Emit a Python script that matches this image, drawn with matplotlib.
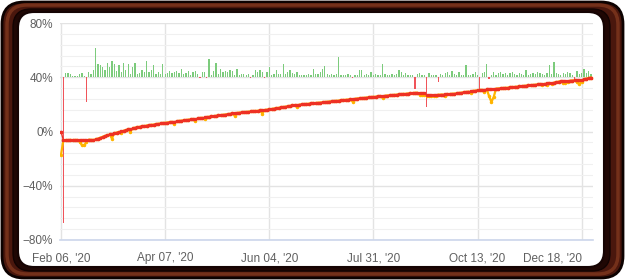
import numpy as np
import matplotlib
matplotlib.use('Agg')
import matplotlib.pyplot as plt
from matplotlib.patches import FancyBboxPatch

# growth line (red), % per point
growth = [
    0.0, -6.4, -6.3, -6.4, -6.2, -6.4, -6.3, -6.3, -6.1, -6.3,
    -6.2, -6.4, -6.0, -6.2, -6.3, -5.8, -5.2, -4.6, -3.9, -3.2,
    -2.8, -2.2, -1.8, -1.2, -0.8, -0.3, 0.1, 0.6, 1.0, 1.5,
    1.9, 2.3, 2.8, 3.2, 3.5, 3.8, 4.0, 4.4, 4.6, 4.9,
    5.1, 5.4, 5.7, 5.9, 6.2, 6.4, 6.6, 6.9, 7.1, 7.3,
    7.5, 7.8, 8.0, 8.2, 8.4, 8.7, 8.9, 9.1, 9.4, 9.6,
    9.9, 10.1, 10.4, 10.6, 10.8, 11.1, 11.3, 11.6, 11.8, 12.0,
    12.3, 12.5, 12.8, 13.0, 13.3, 13.5, 13.7, 13.9, 14.1, 14.2,
    14.4, 14.6, 14.8, 15.0, 15.1, 15.3, 15.5, 15.7, 15.9, 16.1,
    16.3, 16.6, 16.9, 17.2, 17.5, 17.7, 18.0, 18.3, 18.6, 18.9,
    19.2, 19.5, 19.7, 19.8, 20.0, 20.2, 20.3, 20.5, 20.7, 20.8,
    21.0, 21.2, 21.3, 21.5, 21.7, 21.9, 22.1, 22.3, 22.4, 22.6,
    22.8, 23.0, 23.2, 23.4, 23.5, 23.7, 23.9, 24.1, 24.3, 24.5,
    24.6, 24.8, 25.0, 25.2, 25.4, 25.5, 25.7, 25.9, 26.0, 26.2,
    26.4, 26.5, 26.7, 26.8, 27.0, 27.2, 27.3, 27.5, 27.7, 27.8,
    28.0, 28.1, 28.3, 28.5, 28.6, 28.4, 28.2, 28.3, 26.9, 26.9,
    26.9, 27.0, 27.0, 27.1, 27.2, 27.2, 27.3, 27.5, 27.6, 27.8,
    27.9, 28.1, 28.4, 28.6, 28.9, 29.1, 29.4, 29.6, 29.9, 30.1,
    30.4, 30.6, 30.7, 30.9, 31.0, 31.1, 31.3, 31.4, 31.6, 31.7,
    31.9, 32.0, 32.2, 32.3, 32.5, 32.7, 32.9, 33.0, 33.2, 33.4,
    33.6, 33.8, 34.0, 34.1, 34.3, 34.5, 34.7, 34.9, 35.1, 35.2,
    35.4, 35.6, 35.8, 36.0, 36.4, 36.8, 37.1, 37.2, 37.3, 37.4,
    37.5, 37.6, 37.7, 37.8, 37.9, 38.0, 38.5, 39.0, 39.4, 39.8,
]

# balance line (yellow)
balance = [
    -17.0, -6.6, -6.3, -6.4, -6.2, -6.4, -6.3, -6.3, -7.5, -10.0,
    -10.2, -7.8, -6.0, -6.2, -6.3, -5.8, -5.2, -4.6, -3.9, -3.2,
    -2.8, -2.2, -5.2, -1.2, -0.8, -0.3, -1.2, 0.6, 1.0, 1.5,
    0.0, 2.3, 2.8, 3.2, 3.5, 3.8, 4.0, 4.4, 4.6, 4.9,
    5.1, 5.4, 5.7, 5.9, 6.2, 6.4, 6.6, 6.9, 7.1, 5.8,
    7.5, 7.8, 8.0, 8.2, 8.4, 8.7, 8.9, 9.1, 7.9, 9.6,
    9.9, 10.1, 9.0, 10.6, 10.8, 11.1, 11.3, 11.6, 11.8, 12.0,
    12.3, 12.5, 12.8, 13.0, 13.3, 11.7, 13.7, 13.9, 14.1, 14.2,
    14.4, 14.6, 14.8, 15.0, 15.1, 15.3, 15.5, 13.2, 15.9, 16.1,
    16.3, 16.6, 16.9, 17.2, 17.5, 17.7, 18.0, 18.3, 18.6, 18.9,
    19.2, 19.5, 18.4, 19.8, 20.0, 20.2, 20.3, 20.5, 20.7, 20.8,
    21.0, 21.2, 21.3, 21.5, 21.7, 21.9, 22.1, 22.3, 22.4, 22.6,
    22.8, 23.0, 23.2, 23.4, 23.5, 23.7, 22.1, 24.1, 24.3, 24.5,
    24.6, 24.8, 25.0, 25.2, 25.4, 25.5, 25.7, 25.9, 26.0, 24.7,
    26.4, 26.5, 26.7, 26.8, 27.0, 27.2, 27.3, 27.5, 27.7, 27.8,
    28.0, 28.1, 28.3, 28.5, 28.6, 27.0, 26.8, 26.9, 26.4, 26.2,
    26.0, 26.3, 26.5, 27.1, 27.2, 27.2, 26.1, 27.5, 27.6, 27.8,
    27.9, 28.1, 28.4, 28.6, 28.9, 29.1, 29.4, 28.6, 29.9, 30.1,
    30.4, 30.6, 30.7, 29.0, 31.0, 26.0, 21.8, 25.5, 31.6, 31.7,
    31.9, 32.0, 32.2, 32.3, 32.5, 32.7, 32.9, 33.0, 33.2, 33.4,
    33.6, 33.8, 34.0, 34.1, 34.3, 34.5, 34.7, 34.9, 34.2, 35.2,
    34.5, 35.6, 35.0, 36.0, 36.4, 36.8, 37.1, 36.0, 35.8, 36.3,
    37.5, 37.6, 37.7, 36.5, 34.8, 36.8, 38.5, 39.0, 39.4, 39.8,
]

# daily change bars, drawn from the 40% baseline
daily = [
    0.0, -107.4, 3.5, 3.5, 2.7, 1.0, 1.0, 1.0, 2.7, 3.5,
    1.0, -18.5, 4.0, 2.7, 5.2, 21.2, 10.1, 8.9, 7.7, 5.2,
    10.6, 7.7, 12.1, 9.6, 4.7, 8.9, 4.0, 10.6, 5.2, 9.6,
    2.7, 7.7, 10.6, 2.7, 3.2, 5.2, 4.0, 12.1, 4.0, 5.2,
    8.9, 2.7, 4.0, 2.7, 9.6, 2.7, 3.2, 4.7, 3.2, 4.0,
    4.7, 3.2, 6.4, 2.7, 3.5, 4.7, 1.7, 4.0, 4.7, 2.7,
    -0.5, 4.0, 4.0, -0.7, 13.1, 1.5, 4.7, 10.6, 2.7, 6.4,
    4.0, 4.7, 4.2, 5.0, 4.7, 1.5, 6.4, 1.5, 2.7, 2.7,
    1.5, 2.7, -0.5, 1.5, 5.7, 4.0, 5.2, 4.0, -0.5, 4.0,
    7.7, 1.5, 2.7, 5.7, 2.7, 2.7, 10.1, 2.7, 4.0, 5.7,
    3.2, 2.7, 4.0, 1.5, 1.5, 1.5, 1.5, 2.7, 1.5, 6.4,
    2.7, 2.2, 4.0, 6.4, 8.1, 2.7, 1.5, 2.7, 2.0, 2.7,
    15.1, 1.5, 1.5, 2.0, 2.2, 1.5, -0.8, 1.5, 2.0, 5.2,
    5.2, 1.5, 2.7, 1.5, 4.0, 2.0, 2.7, 1.5, 2.0, 10.1,
    2.7, 2.0, 1.5, 2.7, 2.0, 2.7, 5.2, 4.0, 2.0, 3.2,
    1.5, 1.5, 2.0, -8.5, 2.7, 3.5, 1.5, 2.0, -21.7, 3.5,
    2.0, 1.5, 1.5, -3.5, 2.7, 2.0, 3.5, 4.0, 2.0, 4.7,
    2.7, 2.0, 4.0, 2.0, 1.5, 8.9, 2.0, 1.5, 2.2, 4.0,
    1.5, -10.2, 3.5, 4.0, 10.1, -1.2, 2.0, 4.0, 2.0, 3.5,
    4.0, 2.7, 3.5, 2.0, 3.5, 4.0, 2.7, 2.0, 3.5, 2.7,
    2.0, 5.2, 2.0, 2.7, 3.5, 2.7, 4.0, 3.5, 2.7, 2.0,
    3.5, 8.9, 2.7, 11.4, 3.5, 2.7, 2.0, 3.5, 2.7, 4.0,
    3.5, 2.0, -1.5, 4.7, 2.7, 3.5, 6.4, 3.5, 4.7, 2.7,
]

tick_idx = [0, 45, 90, 135, 180, 225]
tick_labels = ["Feb 06, '20", "Apr 07, '20", "Jun 04, '20",
               "Jul 31, '20", "Oct 13, '20", "Dec 18, '20"]
y_ticks = [-80, -40, 0, 40, 80]
y_labels = ['\u221280%', '\u221240%', '0%', '40%', '80%']
BASE = 40

plt.rcParams['font.family'] = ['Liberation Sans', 'DejaVu Sans']

fig = plt.figure(figsize=(6.25, 2.8), dpi=100)

# wooden frame + white panel, in pixel coords
bg = fig.add_axes([0, 0, 1, 1], zorder=-1)
bg.set_xlim(0, 625)
bg.set_ylim(280, 0)
bg.axis('off')
bg.add_patch(FancyBboxPatch((2, 2), 621, 276, boxstyle='round,pad=0,rounding_size=22',
                            fc='#4a170d', ec='#0d0201', lw=2))
bg.add_patch(FancyBboxPatch((7, 5), 611, 269, boxstyle='round,pad=0,rounding_size=20',
                            fc='none', ec='#74301a', lw=2.5))
bg.add_patch(FancyBboxPatch((13, 9), 597, 262, boxstyle='round,pad=0,rounding_size=18',
                            fc='#1f0704', ec='#120302', lw=1))
bg.add_patch(FancyBboxPatch((18, 12), 586, 255, boxstyle='round,pad=0,rounding_size=16',
                            fc='white', ec='#150403', lw=1.5))

ax = fig.add_axes([60 / 625, 40 / 280, 533 / 625, 217 / 280])
ax.set_facecolor('none')

x = np.arange(len(growth))
d = np.array(daily)
cols = ['#7ccb7c' if v >= 0 else '#f0545a' for v in d]
ax.bar(x, d, bottom=BASE, width=0.55, color=cols, linewidth=0, zorder=2)

ax.plot(x, balance, color='#ffb400', lw=1.6, marker='o', ms=1.5, zorder=3)
ax.plot(x, growth, color='#ee3124', lw=1.0, marker='s', ms=1.9, zorder=4)

ax.set_xlim(-0.45, len(growth) - 1 + 0.9)
ax.set_ylim(-80, 80)

ax.set_yticks(y_ticks)
ax.set_yticklabels(y_labels)
ax.set_yticks(np.arange(-80, 81, 8), minor=True)
ax.set_xticks(tick_idx)
ax.set_xticklabels(tick_labels)
labs = ax.get_xticklabels()
labs[-1].set_horizontalalignment('right')
labs[-1].set_x(len(growth) - 1 + 0.9)

ax.grid(True, which='major', axis='both', color='#e3e3e3', lw=1, zorder=0)
ax.grid(True, which='minor', axis='y', color='#f0f0f0', lw=0.8, zorder=0)
ax.set_axisbelow(True)

for s in ['left', 'right', 'top']:
    ax.spines[s].set_visible(False)
ax.spines['bottom'].set_color('#ccd6eb')
ax.spines['bottom'].set_linewidth(1.2)
ax.tick_params(axis='both', which='both', length=0, labelsize=8.5, colors='#606060')
ax.tick_params(axis='x', pad=9)
ax.tick_params(axis='y', pad=5)

fig.savefig('out.png', dpi=100)
